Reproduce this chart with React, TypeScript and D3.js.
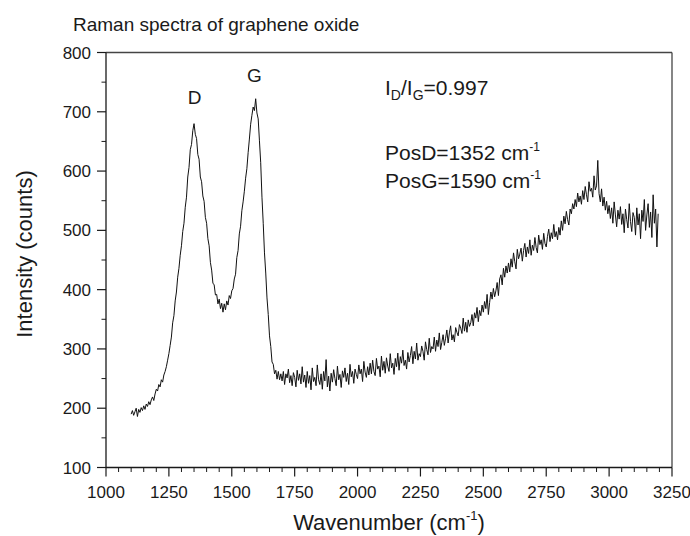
import * as d3 from 'd3';

// Raman spectrum, sampled every 5 cm-1 starting at 1100 cm-1
const wavenumberStart = 1100;
const wavenumberStep = 5;
const intensity: number[] = [
  190, 196, 188, 194, 200, 186, 198, 193, 201, 196,
  204, 198, 207, 203, 211, 206, 214, 219, 213, 224,
  232, 229, 240, 236, 248, 244, 256, 262, 270, 281,
  292, 306, 320, 344, 356, 381, 396, 421, 436, 458,
  474, 498, 512, 539, 556, 590, 606, 636, 645, 668,
  680, 662, 655, 628, 620, 590, 582, 558, 549, 522,
  512, 486, 474, 446, 433, 411, 408, 391, 392, 376,
  384, 368, 377, 362, 376, 366, 381, 374, 390, 385,
  398, 402, 418, 426, 454, 466, 494, 507, 533, 548,
  566, 588, 604, 631, 654, 679, 694, 708, 702, 722,
  698, 688, 651, 614, 556, 512, 462, 428, 386, 358,
  322, 304, 278, 274, 258, 264, 249, 262, 248, 258,
  246, 262, 240, 258, 251, 266, 243, 255, 238, 260,
  252, 236, 264, 247, 258, 241, 270, 244, 256, 235,
  262, 242, 255, 231, 268, 245, 252, 238, 273, 248,
  240, 258, 232, 262, 246, 282, 236, 254, 229, 259,
  244, 265, 250, 238, 271, 248, 257, 235, 263, 252,
  268, 245, 259, 240, 274, 253, 262, 242, 266, 257,
  250, 273, 258, 266, 245, 279, 261, 252, 270, 256,
  276, 258, 281, 262, 255, 284, 266, 271, 253, 288,
  264, 279, 259, 285, 271, 262, 292, 268, 276, 257,
  284, 270, 293, 264, 287, 276, 298, 272, 281, 266,
  294, 278, 289, 304, 275, 296, 283, 310, 281, 292,
  287, 305, 296, 281, 312, 299, 290, 318, 294, 304,
  300, 320, 296, 315, 304, 327, 299, 311, 324, 306,
  318, 332, 310, 327, 339, 315, 324, 312, 336, 328,
  322, 341, 335, 326, 352, 330, 345, 328, 349, 338,
  344, 358, 339, 361, 352, 370, 346, 365, 356, 374,
  362, 380, 368, 392, 358, 378, 396, 384, 402, 388,
  398, 412, 390, 418, 425, 408, 436, 421, 440, 428,
  445, 430, 452, 438, 462, 447, 435, 468, 452, 460,
  470, 448, 466, 478, 455, 472, 461, 484, 458, 475,
  466, 488, 471, 462, 492, 476, 484, 468, 495, 478,
  472, 490, 502, 481, 496, 486, 510, 489, 498, 484,
  505, 492, 516, 500, 524, 511, 532, 518, 509, 536,
  528, 545, 536, 552, 540, 563, 548, 558, 544, 567,
  552, 574, 560, 548, 582, 566, 571, 556, 592, 568,
  575, 618, 562, 548, 570, 541, 556, 534, 549, 528,
  542, 520, 538, 512, 548, 526, 506, 534, 519, 540,
  510, 528, 496, 536, 518, 504, 545, 515, 498, 530,
  522, 492, 538, 509, 528, 486, 534, 515, 552, 500,
  526, 545, 505, 531, 488, 560, 512, 536, 472, 528,
];

const xDomain: [number, number] = [1000, 3250];
const yDomain: [number, number] = [100, 800];
const xTicks = [1000, 1250, 1500, 1750, 2000, 2250, 2500, 2750, 3000, 3250];
const yTicks = [100, 200, 300, 400, 500, 600, 700, 800];

const title = 'Raman spectra of graphene oxide';
const yLabel = 'Intensity (counts)';

const W = 690;
const H = 536;
const margin = { top: 52.5, right: 18, bottom: 68.5, left: 106 };
const FONT = '"Liberation Sans", Arial, sans-serif';
const INK = '#1a1a1a';

export default function App() {
  const x = d3.scaleLinear().domain(xDomain).range([margin.left, W - margin.right]);
  const y = d3.scaleLinear().domain(yDomain).range([H - margin.bottom, margin.top]);

  const points = intensity.map((v, i) => [wavenumberStart + i * wavenumberStep, v] as [number, number]);
  const line = d3
    .line<[number, number]>()
    .x((d) => x(d[0]))
    .y((d) => y(d[1]));

  const xMinor = d3.range(xDomain[0], xDomain[1] + 1, 50).filter((v) => !xTicks.includes(v));
  const yMinor = d3.range(yDomain[0] + 50, yDomain[1], 100);

  const x0 = x(xDomain[0]);
  const x1 = x(xDomain[1]);
  const y0 = y(yDomain[0]);
  const y1 = y(yDomain[1]);

  return (
    <svg
      width={W}
      height={H}
      viewBox={`0 0 ${W} ${H}`}
      style={{ position: 'absolute', left: 0, top: 0, background: '#fff' }}
      fontFamily={FONT}
    >
      <rect width={W} height={H} fill="#fff" />

      {/* frame */}
      <line x1={x0} x2={x1} y1={y1} y2={y1} stroke="#444" strokeWidth={1.3} />
      <line x1={x1} x2={x1} y1={y1} y2={y0} stroke="#444" strokeWidth={1.3} />

      {/* spectrum */}
      <path d={line(points) || ''} fill="none" stroke="#111" strokeWidth={1} />

      {/* x axis */}
      <line x1={x0} x2={x1} y1={y0} y2={y0} stroke={INK} strokeWidth={1.3} />
      {xTicks.map((t) => (
        <g key={`xt${t}`}>
          <line x1={x(t)} x2={x(t)} y1={y0} y2={y0 + 9} stroke={INK} strokeWidth={1.2} />
          <text x={x(t)} y={y0 + 30} textAnchor="middle" fontSize={17} fill={INK}>
            {t}
          </text>
        </g>
      ))}
      {xMinor.map((t) => (
        <line key={`xm${t}`} x1={x(t)} x2={x(t)} y1={y0} y2={y0 + 4.5} stroke={INK} strokeWidth={1} />
      ))}

      {/* y axis */}
      <line x1={x0} x2={x0} y1={y0} y2={y1} stroke={INK} strokeWidth={1.3} />
      {yTicks.map((t) => (
        <g key={`yt${t}`}>
          <line x1={x0 - 9} x2={x0} y1={y(t)} y2={y(t)} stroke={INK} strokeWidth={1.2} />
          <text x={x0 - 15} y={y(t) + 6} textAnchor="end" fontSize={17} fill={INK}>
            {t}
          </text>
        </g>
      ))}
      {yMinor.map((t) => (
        <line key={`ym${t}`} x1={x0 - 4.5} x2={x0} y1={y(t)} y2={y(t)} stroke={INK} strokeWidth={1} />
      ))}

      {/* titles */}
      <text x={73} y={31} fontSize={19} fill={INK}>
        {title}
      </text>
      <text
        transform={`translate(32,254) rotate(-90)`}
        textAnchor="middle"
        fontSize={22}
        fill={INK}
      >
        {yLabel}
      </text>
      <text x={(x0 + x1) / 2} y={530} textAnchor="middle" fontSize={22} fill={INK}>
        Wavenumber (cm
        <tspan fontSize={13} dy={-10}>-1</tspan>
        <tspan dy={10}>)</tspan>
      </text>

      {/* annotations */}
      <text x={x(1352)} y={104} textAnchor="middle" fontSize={19} fill={INK}>D</text>
      <text x={x(1590)} y={82} textAnchor="middle" fontSize={19} fill={INK}>G</text>
      <text x={385} y={95} fontSize={21} fill={INK}>
        I<tspan fontSize={14} dy={5}>D</tspan>
        <tspan dy={-5}>/I</tspan>
        <tspan fontSize={14} dy={5}>G</tspan>
        <tspan dy={-5}>=0.997</tspan>
      </text>
      <text x={385} y={160} fontSize={21} fill={INK}>
        PosD=1352 cm<tspan fontSize={12} dy={-9}>-1</tspan>
      </text>
      <text x={385} y={188} fontSize={21} fill={INK}>
        PosG=1590 cm<tspan fontSize={12} dy={-9}>-1</tspan>
      </text>
    </svg>
  );
}
